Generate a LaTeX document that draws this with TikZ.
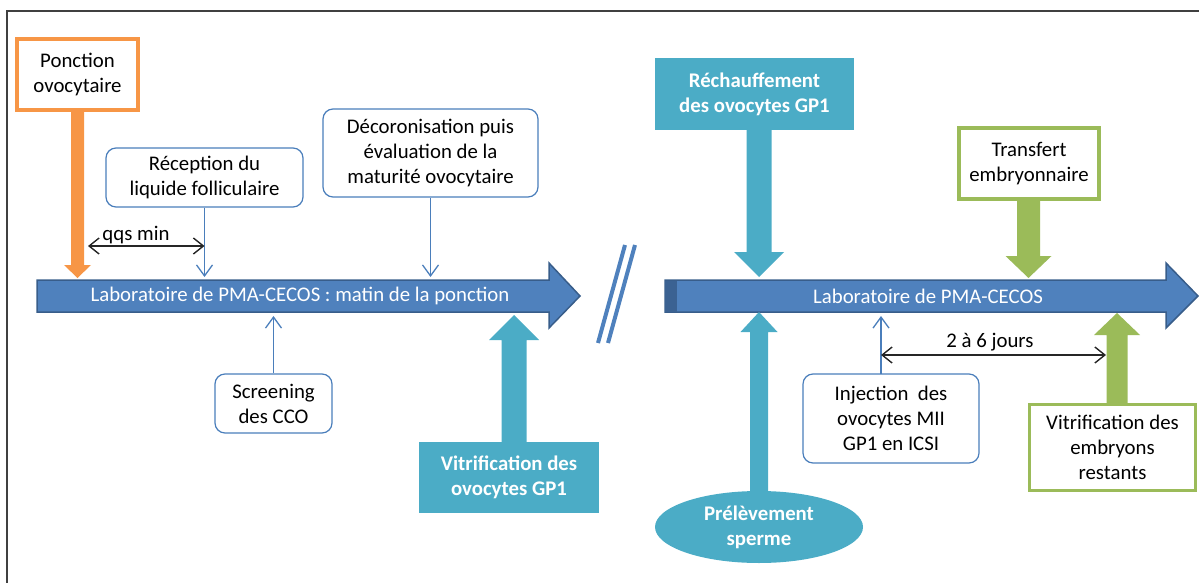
\documentclass[tikz,border=0pt]{standalone}
\usepackage{fontspec}
\setmainfont{Carlito}
\usetikzlibrary{arrows.meta,shapes.geometric}
\definecolor{cOrange}{HTML}{F79646}
\definecolor{cTeal}{HTML}{4BACC6}
\definecolor{cGreen}{HTML}{9BBB59}
\definecolor{cBlue}{HTML}{4F81BD}
\definecolor{cDark}{HTML}{385D8A}
\definecolor{cLine}{HTML}{4A7EBB}
\newcommand{\blockarrow}[7]{%
  \fill[#7] ({#1-#5},#2) -- ({#1-#5},#3) -- ({#1-#6},#3) -- (#1,#4) -- ({#1+#6},#3) -- ({#1+#5},#3) -- ({#1+#5},#2) -- cycle;}
\tikzset{
  txt/.style={font=\fontsize{20.8}{25}\selectfont, align=center, inner sep=0pt},
  roundbox/.style={txt, draw=cLine, line width=1.2pt, rounded corners=10pt, fill=white},
  orangebox/.style={txt, draw=cOrange, line width=3.5pt, fill=white},
  greenbox/.style={txt, draw=cGreen, line width=3.5pt, fill=white},
  tealbox/.style={txt, fill=cTeal, text=white, font=\fontsize{20.8}{25}\selectfont\bfseries},
  thinarrow/.style={draw=cLine, line width=1.1pt, -{Straight Barb[length=11pt,width=16pt,line width=1.3pt]}},
  dimarrow/.style={draw=black!85, line width=1.2pt, {Straight Barb[length=10pt,width=16pt,line width=1.4pt]}-{Straight Barb[length=10pt,width=16pt,line width=1.4pt]}},
  mainarrow/.style={fill=cBlue, draw=cDark, line width=1.5pt},
  lbl/.style={font=\fontsize{20.8}{25}\selectfont, inner sep=0pt}
}
\begin{document}
\begin{tikzpicture}[x=1pt,y=-1pt]
\useasboundingbox (0,0) rectangle (1199,583);
% frame
\draw[line width=1.5pt, draw=black!75] (7,583) -- (7,11) -- (1199,11);

% main arrows
\draw[mainarrow] (37,280) -- (549,280) -- (549,263) -- (580,296) -- (549,328) -- (549,312) -- (37,312) -- cycle;
\draw[mainarrow] (665,280) -- (1166,280) -- (1166,263) -- (1198,296) -- (1166,328) -- (1166,312) -- (665,312) -- cycle;
\fill[cDark!85!cBlue] (665,280.5) rectangle (677,311.5);
\node[lbl, text=white] (labL) at (300,296) {Laboratoire de PMA-CECOS : matin de la ponction};
\node[lbl, text=white] (labR) at (928,296) {Laboratoire de PMA-CECOS};

% double slash
\draw[cBlue, line width=4pt] (625,245) -- (598,343);
\draw[cBlue, line width=4pt] (635,245) -- (608,343);

% boxes
\node[orangebox, minimum width=121pt, minimum height=71pt] (ponct) at (77.5,74.5) {Ponction\\ovocytaire};
\node[roundbox, minimum width=197pt, minimum height=59pt] (recep) at (204.5,177.5) {Réception du\\liquide folliculaire};
\node[roundbox, minimum width=215pt, minimum height=88pt] (decor) at (430.5,153) {Décoronisation puis\\évaluation de la\\maturité ovocytaire};
\node[roundbox, minimum width=117pt, minimum height=59pt] (screen) at (273.5,403.5) {Screening\\des CCO};
\node[tealbox, minimum width=180pt, minimum height=71pt] (vitrL) at (509,477.5) {Vitrification des\\ovocytes GP1};
\node[tealbox, minimum width=199pt, minimum height=72pt] (rech) at (754.5,94) {Réchauffement\\des ovocytes GP1};
\node[greenbox, minimum width=140pt, minimum height=71pt] (transf) at (1029,163.5) {Transfert\\embryonnaire};
\node[roundbox, minimum width=176pt, minimum height=89pt] (inject) at (891,418.5) {Injection~~des\\ovocytes MII\\GP1 en ICSI};
\node[greenbox, minimum width=166pt, minimum height=86pt] (vitrR) at (1112.5,447.5) {Vitrification des\\embryons\\restants};
\node[ellipse, fill=cTeal, text=white, font=\fontsize{20.8}{25}\selectfont\bfseries, align=center, inner sep=0pt, minimum width=208pt, minimum height=72pt] (prelev) at (759,527) {Prélèvement\\sperme};

% block arrows
\blockarrow{77.5}{110}{265}{278}{6.5}{13.5}{cOrange}
\blockarrow{759}{130}{252}{277}{12.5}{25}{cTeal}
\blockarrow{1028.5}{199}{256}{278}{11.5}{23}{cGreen}
\blockarrow{514}{442}{340}{315}{12.5}{25}{cTeal}
\blockarrow{759}{491}{332}{312}{9}{18.5}{cTeal}
\blockarrow{1117}{403}{335}{313}{10.5}{23}{cGreen}

% thin arrows
\coordinate (recepT) at (recep.south |- 0,277);
\coordinate (decorT) at (decor.south |- 0,277);
\coordinate (screenT) at (screen.north |- 0,316);
\coordinate (injS) at (881,374);
\coordinate (injT) at (881,316);
\draw[thinarrow] (recep.south) -- (recepT);
\draw[thinarrow] (decor.south) -- (decorT);
\draw[thinarrow] (screen.north) -- (screenT);
\draw[thinarrow] (injS) -- (injT);

% dimension arrows
\coordinate (qA) at (88,246);
\coordinate (qB) at (recep.south |- 0,246);
\draw[dimarrow] (qA) -- (qB);
\node[lbl] (qqs) at (136,235) {qqs min};
\coordinate (jA) at (881,355);
\coordinate (jB) at (1106,355);
\draw[dimarrow] (jA) -- (jB);
\node[lbl] (jours) at (990,342) {2 à 6 jours};
\end{tikzpicture}
\end{document}
